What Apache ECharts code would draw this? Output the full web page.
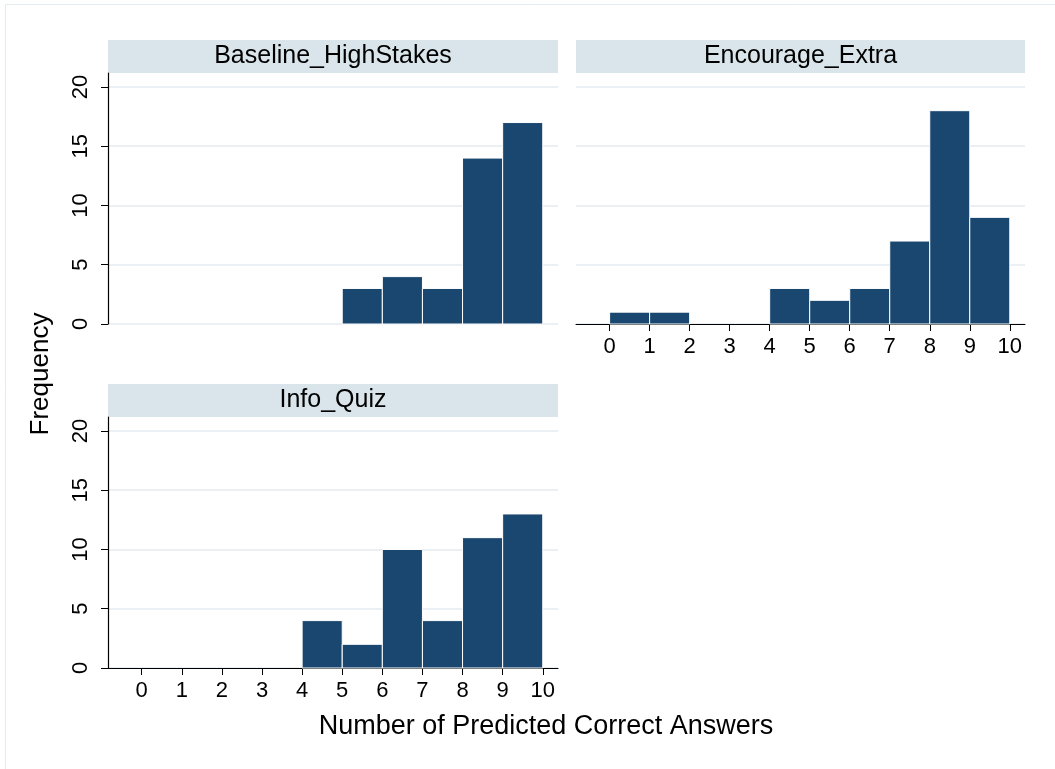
<!DOCTYPE html>
<html>
<head>
<meta charset="utf-8">
<script src="https://cdn.jsdelivr.net/npm/echarts@6/dist/echarts.min.js"></script>
<style>
html,body{margin:0;padding:0;background:#fff;}
#chart{width:1055px;height:769px;}
</style>
</head>
<body>
<div id="chart"></div>
<script>
// ---- data ----
const binStarts = [0, 1, 2, 3, 4, 5, 6, 7, 8, 9];
const binWidth = 1;
const panelNames = ["Baseline_HighStakes", "Encourage_Extra", "Info_Quiz"];
const baselineCounts = [0, 0, 0, 0, 0, 3, 4, 3, 14, 17];
const encourageCounts = [1, 1, 0, 0, 3, 2, 3, 7, 18, 9];
const infoCounts = [0, 0, 0, 0, 4, 2, 10, 4, 11, 13];
const xTicks = [0, 1, 2, 3, 4, 5, 6, 7, 8, 9, 10];
const yTicks = [0, 5, 10, 15, 20];
const xTitle = "Number of Predicted Correct Answers";
const yTitle = "Frequency";

// ---- style / layout ----
const FONT = "'Liberation Sans', Arial, sans-serif";
const BAR = "#1a476f";
const GRIDC = "#eaf0f3";
const STRIP = "#d9e5ea";
const panels = [
  {left: 108, top: 73, width: 450, height: 251, counts: baselineCounts, showX: false, showY: true},
  {left: 576, top: 73, width: 449, height: 251, counts: encourageCounts, showX: true, showY: false},
  {left: 108, top: 417, width: 450, height: 251, counts: infoCounts, showX: true, showY: true}
];

const chart = echarts.init(document.getElementById('chart'), null, {renderer: 'canvas'});

const grids = [], xAxes = [], yAxes = [], series = [], graphics = [];

graphics.push({type: 'rect', shape: {x: 5.5, y: 4.5, width: 1100, height: 800},
  style: {fill: 'none', stroke: '#e4ebef', lineWidth: 1}, z: -10});

panels.forEach((p, i) => {
  grids.push({left: p.left, top: p.top, width: p.width, height: p.height, containLabel: false});
  xAxes.push({
    type: 'value', gridIndex: i, min: -0.84, max: 10.38, position: 'bottom',
    axisLine: {show: p.showX, onZero: false, lineStyle: {color: '#000', width: 1}},
    axisTick: {show: p.showX, length: 7, customValues: xTicks, lineStyle: {color: '#000'}},
    axisLabel: {show: p.showX, customValues: xTicks, margin: 12, fontSize: 22, color: '#000', fontFamily: FONT},
    splitLine: {show: false}
  });
  yAxes.push({
    type: 'value', gridIndex: i, min: 0, max: 21.18, position: 'left',
    axisLine: {show: p.showY, onZero: false, lineStyle: {color: '#000', width: 1.2}},
    axisTick: {show: p.showY, length: 7, customValues: yTicks, lineStyle: {color: '#000', width: 1}},
    axisLabel: {show: p.showY, customValues: yTicks, rotate: 90, margin: 16, fontSize: 22, color: '#000', fontFamily: FONT},
    splitLine: {show: true, lineStyle: {color: GRIDC, width: 2}}
  });
  const data = binStarts.map((s, k) => [s, s + binWidth, p.counts[k]]);
  series.push({
    type: 'custom', xAxisIndex: i, yAxisIndex: i, data: data,
    encode: {x: [0, 1], y: 2},
    renderItem: function (params, api) {
      const v = api.value(2);
      if (!v) return null;
      const a = api.coord([api.value(0), v]);
      const b = api.coord([api.value(1), 0]);
      return {type: 'rect', shape: {x: a[0], y: a[1], width: b[0] - a[0], height: b[1] - a[1]},
        style: {fill: BAR, stroke: '#fff', lineWidth: 1}};
    },
    z: 3
  });
  // strip header
  graphics.push({type: 'rect', shape: {x: p.left, y: p.top - 33, width: p.width, height: 33},
    style: {fill: STRIP}, z: -1});
  graphics.push({type: 'text', x: p.left + p.width / 2, y: p.top - 16.5,
    style: {text: panelNames[i], fontSize: 25, fontFamily: FONT, fill: '#000', align: 'center', verticalAlign: 'middle'}});
});

graphics.push({type: 'text', x: 546, y: 727,
  style: {text: xTitle, fontSize: 27, fontFamily: FONT, fill: '#000', align: 'center', verticalAlign: 'middle'}});
graphics.push({type: 'text', x: 41, y: 374, rotation: Math.PI / 2,
  style: {text: yTitle, fontSize: 26, fontFamily: FONT, fill: '#000', align: 'center', verticalAlign: 'middle'}});

chart.setOption({
  animation: false,
  backgroundColor: '#fff',
  grid: grids,
  xAxis: xAxes,
  yAxis: yAxes,
  series: series,
  graphic: graphics
});
</script>
</body>
</html>
